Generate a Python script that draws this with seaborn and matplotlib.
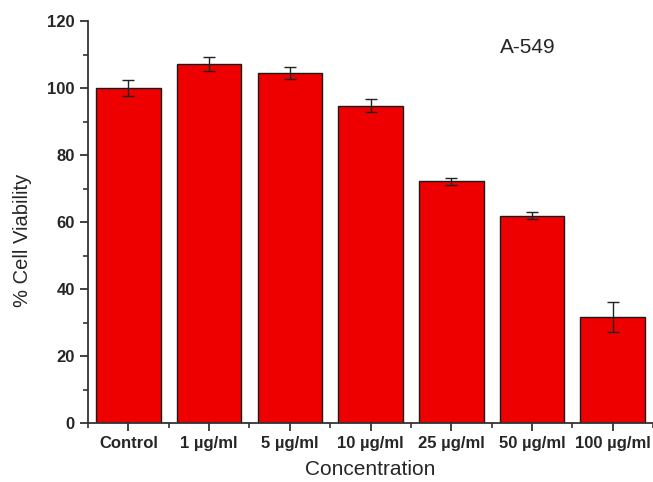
import numpy as np
import pandas as pd
import matplotlib
matplotlib.use("Agg")
import matplotlib.pyplot as plt
from matplotlib.ticker import MultipleLocator
import seaborn as sns

# data
categories = ["Control", "1 µg/ml", "5 µg/ml", "10 µg/ml", "25 µg/ml", "50 µg/ml", "100 µg/ml"]
viability = [100.0, 107.2, 104.5, 94.7, 72.1, 61.9, 31.7]
errors = [2.5, 2.0, 1.7, 1.9, 1.1, 1.1, 4.4]

sns.set_style("ticks")
plt.rcParams["font.family"] = ["Liberation Sans", "DejaVu Sans"]

df = pd.DataFrame({"conc": categories, "viability": viability})

fig = plt.figure(figsize=(6.53, 4.82), dpi=100)
ax = fig.add_axes([0.1348, 0.1224, 0.8652, 0.834])

sns.barplot(data=df, x="conc", y="viability", color="#EE0000", saturation=1,
            width=0.8, edgecolor="#1a1a1a", linewidth=1.0, ax=ax)
ax.errorbar(np.arange(len(categories)), viability, yerr=errors, fmt="none",
            ecolor="#222222", elinewidth=1.0, capsize=4, capthick=1.0)

ax.set_xlim(-0.5, 6.5)
ax.set_ylim(0, 120)
ax.yaxis.set_major_locator(MultipleLocator(20))
ax.yaxis.set_minor_locator(MultipleLocator(10))
ax.set_xticks(np.arange(-0.5, 7.0, 1.0), minor=True)

for side in ["top", "right"]:
    ax.spines[side].set_visible(False)
for side in ["left", "bottom"]:
    ax.spines[side].set_color("#333333")
    ax.spines[side].set_linewidth(1.3)

ax.tick_params(axis="both", which="major", direction="out", length=6, width=1.3,
               color="#333333", labelsize=12)
ax.tick_params(axis="both", which="minor", direction="out", length=3.5, width=1.2,
               color="#333333")
for lbl in ax.get_xticklabels() + ax.get_yticklabels():
    lbl.set_fontweight("bold")

ax.set_xlabel("Concentration", fontsize=15, labelpad=6)
ax.set_ylabel("% Cell Viability", fontsize=14.5)
ax.yaxis.set_label_coords(-0.099, 0.455)
ax.text(0.779, 0.935, "A-549", transform=ax.transAxes, fontsize=15, ha="center", va="center")

fig.savefig("out.png", dpi=100)
